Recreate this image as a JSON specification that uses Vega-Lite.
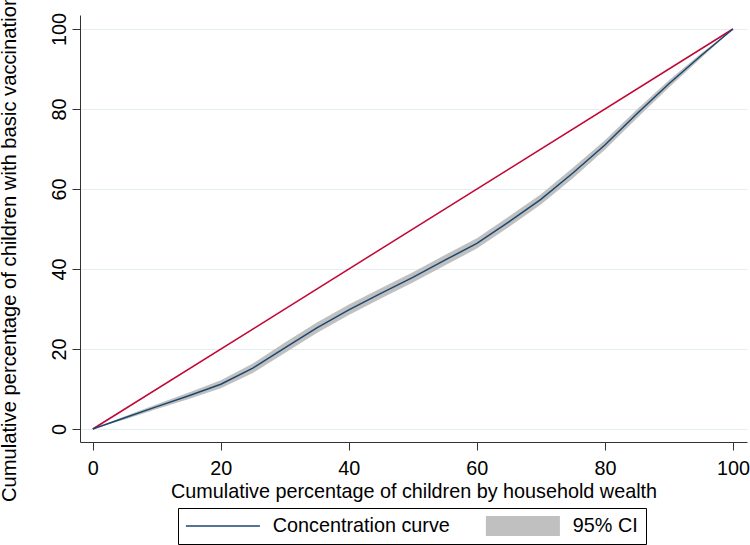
{
  "$schema": "https://vega.github.io/schema/vega-lite/v6.json",
  "width": 667,
  "height": 427,
  "autosize": {"type": "none"},
  "padding": {"left": 80, "top": 15, "right": 3, "bottom": 103},
  "background": "white",
  "config": {
    "view": {"stroke": null},
    "font": "Liberation Sans",
    "axis": {
      "labelFont": "Liberation Sans",
      "titleFont": "Liberation Sans",
      "labelFontSize": 19.8,
      "titleFontSize": 19.8,
      "titleFontWeight": "normal",
      "labelColor": "black",
      "titleColor": "black",
      "domainColor": "#333333",
      "tickColor": "#333333",
      "tickSize": 8,
      "labelPadding": 8
    },
    "legend": {
      "labelFont": "Liberation Sans",
      "labelFontSize": 19.8,
      "labelColor": "black",
      "labelLimit": 400
    }
  },
  "datasets": {
    "curve": [
      {"x": 0, "y": 0, "lo": 0, "hi": 0, "series": "Concentration curve"},
      {"x": 5, "y": 2.8, "lo": 2.4, "hi": 3.2, "series": "Concentration curve"},
      {"x": 10, "y": 5.6, "lo": 5.0, "hi": 6.2, "series": "Concentration curve"},
      {"x": 15, "y": 8.3, "lo": 7.5, "hi": 9.1, "series": "Concentration curve"},
      {"x": 20, "y": 11.2, "lo": 10.2, "hi": 12.2, "series": "Concentration curve"},
      {"x": 25, "y": 15.2, "lo": 14.0, "hi": 16.4, "series": "Concentration curve"},
      {"x": 30, "y": 20.3, "lo": 19.0, "hi": 21.6, "series": "Concentration curve"},
      {"x": 35, "y": 25.3, "lo": 24.0, "hi": 26.6, "series": "Concentration curve"},
      {"x": 40, "y": 29.8, "lo": 28.5, "hi": 31.1, "series": "Concentration curve"},
      {"x": 45, "y": 33.9, "lo": 32.6, "hi": 35.2, "series": "Concentration curve"},
      {"x": 50, "y": 37.9, "lo": 36.6, "hi": 39.2, "series": "Concentration curve"},
      {"x": 55, "y": 42.2, "lo": 40.9, "hi": 43.5, "series": "Concentration curve"},
      {"x": 60, "y": 46.4, "lo": 45.1, "hi": 47.7, "series": "Concentration curve"},
      {"x": 65, "y": 51.8, "lo": 50.5, "hi": 53.1, "series": "Concentration curve"},
      {"x": 70, "y": 57.4, "lo": 56.1, "hi": 58.7, "series": "Concentration curve"},
      {"x": 75, "y": 64.0, "lo": 62.7, "hi": 65.3, "series": "Concentration curve"},
      {"x": 80, "y": 71.0, "lo": 69.8, "hi": 72.2, "series": "Concentration curve"},
      {"x": 85, "y": 78.8, "lo": 77.7, "hi": 79.9, "series": "Concentration curve"},
      {"x": 90, "y": 86.3, "lo": 85.4, "hi": 87.2, "series": "Concentration curve"},
      {"x": 95, "y": 93.3, "lo": 92.7, "hi": 93.9, "series": "Concentration curve"},
      {"x": 100, "y": 100, "lo": 100, "hi": 100, "series": "Concentration curve"}
    ],
    "equality": [
      {"x": 0, "y": 0},
      {"x": 100, "y": 100}
    ]
  },
  "layer": [
    {
      "data": {"name": "curve"},
      "mark": {"type": "area", "color": "#c0c0c0"},
      "encoding": {
        "x": {
          "field": "x",
          "type": "quantitative",
          "scale": {"domain": [-2, 102.2], "nice": false, "zero": false},
          "axis": {
            "values": [0, 20, 40, 60, 80, 100],
            "grid": false,
            "title": "Cumulative percentage of children by household wealth",
            "titlePadding": 4
          }
        },
        "y": {
          "field": "lo",
          "type": "quantitative",
          "scale": {"domain": [-3.25, 103.5], "nice": false, "zero": false},
          "axis": {
            "values": [0, 20, 40, 60, 80, 100],
            "grid": true,
            "gridColor": "#e4eef0",
            "gridWidth": 1,
            "labelAngle": -90,
            "labelAlign": "center",
            "labelBaseline": "alphabetic",
            "labelPadding": 7,
            "title": "Cumulative percentage of children with basic vaccination",
            "titleFontSize": 20.2,
            "titleX": -65,
            "titleY": 233,
            "titleAngle": -90,
            "titleAlign": "center",
            "titleBaseline": "alphabetic"
          }
        },
        "y2": {"field": "hi"}
      }
    },
    {
      "data": {"name": "equality"},
      "mark": {"type": "line", "color": "#c10534", "strokeWidth": 1.5},
      "encoding": {
        "x": {"field": "x", "type": "quantitative"},
        "y": {"field": "y", "type": "quantitative"}
      }
    },
    {
      "data": {"name": "curve"},
      "mark": {"type": "line", "strokeWidth": 1.5},
      "encoding": {
        "x": {"field": "x", "type": "quantitative"},
        "y": {"field": "y", "type": "quantitative"},
        "stroke": {
          "field": "series",
          "type": "nominal",
          "scale": {
            "domain": ["Concentration curve", "95% CI"],
            "range": ["#1a476f", "#c0c0c0"]
          },
          "legend": {
            "title": null,
            "orient": "none",
            "legendX": 98,
            "legendY": 493,
            "direction": "horizontal",
            "symbolSize": 400,
            "labelOffset": 67,
            "columnPadding": 35,
            "padding": 8,
            "strokeColor": "black",
            "encode": {
              "symbols": {
                "update": {
                  "shape": {"signal": "datum.value === '95% CI' ? 'M-1,-1H6.4V1H-1Z' : 'M-1,0H6.4'"},
                  "fill": {"signal": "datum.value === '95% CI' ? '#c0c0c0' : 'transparent'"},
                  "stroke": {"signal": "datum.value === '95% CI' ? '#c0c0c0' : '#1a476f'"},
                  "strokeWidth": {"signal": "datum.value === '95% CI' ? 0 : 1.5"},
                  "opacity": {"value": 1}
                }
              }
            }
          }
        }
      }
    }
  ]
}
